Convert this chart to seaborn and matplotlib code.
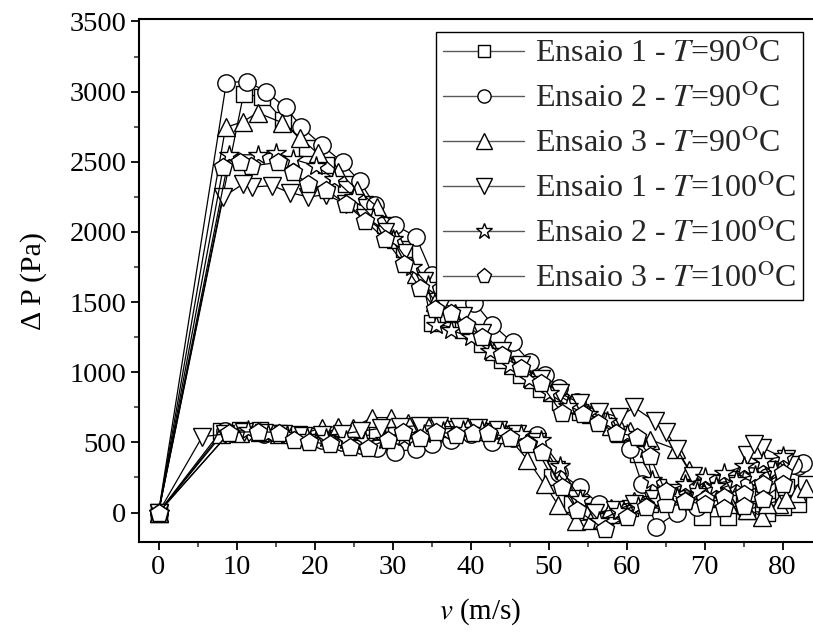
import numpy as np
import pandas as pd
import matplotlib
matplotlib.use("Agg")
import matplotlib.pyplot as plt
import seaborn as sns
from matplotlib.lines import Line2D

sns.set_theme(style="white")
plt.rcParams['font.family'] = ['Liberation Serif', 'DejaVu Serif']
plt.rcParams['mathtext.fontset'] = 'stix'

labels = [r'Ensaio 1 - $T$=90$^{\mathrm{O}}$C',
          r'Ensaio 2 - $T$=90$^{\mathrm{O}}$C',
          r'Ensaio 3 - $T$=90$^{\mathrm{O}}$C',
          r'Ensaio 1 - $T$=100$^{\mathrm{O}}$C',
          r'Ensaio 2 - $T$=100$^{\mathrm{O}}$C',
          r'Ensaio 3 - $T$=100$^{\mathrm{O}}$C']

# ---- Ensaio 1, 90 C (squares)
e1_90_lo_v = [0, 8.0, 10.5, 13.0, 15.5, 18.0, 20.5, 23.0, 25.5, 28.0, 30.5, 33.0, 35.5, 38.0, 40.5, 43.0, 45.5, 48.0, 50.5, 53.0, 55.5, 58.0, 60.5, 63.0, 65.5, 68.0, 70.5, 73.0, 75.5, 78.0, 80.5, 83.0]
e1_90_lo_dp = [0, 580, 590, 585, 570, 560, 545, 530, 540, 560, 580, 590, 600, 595, 590, 580, 560, 500, 250, 60, 10, -20, 30, 60, 80, 90, 100, 120, 140, 160, 180, 200]
e1_90_up_v = [10.9, 13.3, 15.9, 19.1, 21.5, 24.0, 26.5, 29.0, 31.5, 34.0, 35.0, 39.0, 41.5, 44.0, 46.5, 49.0, 51.5, 54.0, 56.5, 59.0, 61.5, 64.0, 66.5, 69.7, 73.0, 75.5, 78.0, 80.0, 82.0]
e1_90_up_dp = [2980, 2965, 2800, 2600, 2480, 2340, 2200, 2050, 1880, 1620, 1354, 1300, 1200, 1090, 980, 880, 790, 720, 650, 560, 420, 180, 60, -30, -30, 10, 0, 40, 60]

# ---- Ensaio 2, 90 C (circles)
e2_90_lo_v = [0, 8.5, 11.0, 13.5, 16.0, 18.5, 21.0, 23.5, 26.0, 28.0, 30.3, 33.0, 35.0, 37.5, 40.0, 42.8, 45.5, 48.5, 51.4, 54.0, 56.5, 59.0, 61.5, 64.0, 67.0, 70.0, 73.0, 76.0, 79.0, 82.0]
e2_90_lo_dp = [0, 580, 570, 560, 560, 540, 520, 500, 480, 460, 435, 450, 485, 520, 560, 506, 530, 556, 285, 180, 60, 20, 60, 100, 140, 180, 220, 260, 300, 330]
e2_90_up_v = [8.7, 11.4, 13.8, 16.3, 18.3, 20.9, 23.6, 25.8, 27.7, 30.3, 33.0, 35.1, 37.8, 40.5, 42.8, 45.4, 47.6, 49.5, 51.4, 53.7, 56.0, 58.5, 60.5, 62.0, 63.8, 66.5, 69.0, 72.0, 75.0, 78.0, 81.3, 82.6]
e2_90_up_dp = [3065, 3072, 3000, 2887, 2750, 2620, 2495, 2360, 2195, 2050, 1967, 1696, 1600, 1497, 1340, 1212, 1076, 980, 890, 790, 700, 600, 450, 200, -100, 0, 40, 100, 180, 250, 342, 356]

# ---- Ensaio 3, 90 C (triangles up)
e3_90_lo_v = [0, 8.0, 10.5, 13.0, 15.5, 18.0, 20.9, 23.0, 24.9, 27.4, 29.8, 32.0, 34.5, 37.0, 39.6, 42.0, 44.5, 47.3, 49.5, 51.2, 53.5, 55.5, 58.0, 61.0, 64.0, 67.0, 70.0, 73.0, 77.4, 79.5, 81.8]
e3_90_lo_dp = [0, 560, 570, 575, 560, 550, 605, 613, 605, 677, 677, 640, 620, 600, 613, 580, 560, 378, 200, 57, -60, -50, 30, 80, 120, 140, 160, 100, -30, 60, 140]
e3_90_up_v = [8.6, 10.8, 12.7, 15.8, 18.2, 20.4, 23.0, 25.5, 28.0, 30.5, 33.0, 35.5, 38.0, 40.5, 43.0, 45.5, 48.0, 50.5, 53.0, 55.5, 58.0, 60.5, 63.0, 66.4, 68.0, 70.5, 73.0, 75.5, 78.0, 80.5, 83.0]
e3_90_up_dp = [2745, 2785, 2850, 2780, 2670, 2560, 2430, 2300, 2180, 1950, 1700, 1500, 1420, 1300, 1150, 1050, 950, 860, 780, 700, 620, 580, 520, 450, 300, 150, 60, 20, 60, 100, 178]

# ---- Ensaio 1, 100 C (triangles down)
e1_100_lo_v = [0, 5.6, 8.5, 11.0, 13.5, 16.0, 18.5, 21.0, 23.5, 26.0, 28.5, 31.0, 33.5, 36.0, 38.5, 41.0, 43.5, 46.0, 48.5, 51.0, 53.5, 56.0, 58.5, 61.0, 63.5, 66.0, 68.5, 71.0, 73.5, 75.4, 78.5, 81.0]
e1_100_lo_dp = [0, 540, 560, 575, 570, 560, 545, 550, 560, 580, 600, 610, 620, 615, 610, 600, 590, 560, 500, 300, 100, 0, 20, 60, 100, 140, 170, 200, 230, 413, 300, 340]
e1_100_up_v = [8.3, 10.8, 12.0, 14.6, 16.8, 19.2, 21.5, 24.0, 26.5, 29.0, 31.5, 34.0, 36.5, 39.0, 41.5, 44.0, 46.5, 49.0, 51.5, 54.0, 56.5, 59.0, 61.0, 63.6, 65.1, 66.5, 68.5, 71.0, 73.5, 76.4, 77.4, 80.5]
e1_100_up_dp = [2250, 2340, 2320, 2330, 2280, 2250, 2265, 2200, 2100, 2000, 1850, 1650, 1500, 1400, 1280, 1150, 1050, 950, 850, 780, 720, 680, 750, 650, 577, 450, 260, 150, 200, 485, 463, 380]

# ---- Ensaio 2, 100 C (stars)
e2_100_lo_v = [0, 9.1, 11.5, 14.0, 16.5, 19.0, 21.5, 24.0, 26.5, 29.0, 31.5, 34.0, 36.5, 39.0, 41.5, 44.0, 46.5, 49.0, 51.5, 54.0, 56.5, 59.0, 61.5, 64.0, 66.5, 69.0, 71.5, 74.0, 76.5, 79.0]
e2_100_lo_dp = [0, 570, 590, 560, 555, 540, 530, 520, 510, 520, 540, 560, 580, 590, 590, 580, 560, 520, 330, 100, -60, 10, 50, 80, 110, 150, 190, 230, 270, 300]
e2_100_up_v = [9.1, 12.7, 15.1, 17.2, 20.2, 22.5, 25.0, 27.5, 30.0, 32.5, 34.5, 35.6, 37.5, 40.0, 42.5, 45.0, 47.5, 50.0, 52.5, 55.0, 57.5, 60.0, 62.5, 63.3, 65.0, 67.5, 70.0, 72.5, 75.0, 77.5, 80.0]
e2_100_up_dp = [2550, 2550, 2565, 2520, 2470, 2380, 2250, 2100, 1950, 1750, 1625, 1340, 1300, 1250, 1150, 1050, 950, 850, 760, 700, 650, 560, 450, 235, 150, 200, 250, 280, 330, 370, 400]

# ---- Ensaio 3, 100 C (pentagons)
e3_100_lo_v = [0, 9.1, 12.7, 15.5, 17.4, 19.3, 22.0, 24.5, 26.8, 29.4, 31.3, 33.5, 35.6, 38.2, 40.3, 42.2, 45.0, 47.3, 49.2, 51.7, 53.6, 57.2, 60.0, 62.5, 65.0, 67.5, 70.0, 72.5, 75.0, 77.5, 80.0]
e3_100_lo_dp = [0, 570, 577, 570, 520, 506, 485, 470, 463, 520, 577, 534, 577, 556, 570, 570, 534, 485, 428, 185, 20, -120, -30, 40, 60, 80, 100, 110, 130, 200, 280]
e3_100_up_v = [8.3, 10.4, 11.9, 15.3, 17.2, 19.2, 21.5, 24.0, 26.5, 29.0, 31.5, 33.5, 35.5, 37.5, 39.4, 41.5, 44.0, 46.5, 49.0, 51.7, 54.4, 56.3, 58.7, 61.3, 63.0, 65.0, 67.5, 70.0, 72.5, 75.0, 77.5, 80.0]
e3_100_up_dp = [2460, 2500, 2470, 2495, 2430, 2340, 2300, 2200, 2080, 1950, 1770, 1600, 1450, 1420, 1340, 1250, 1120, 1030, 920, 710, 700, 640, 570, 540, 400, 150, 80, 60, 30, 50, 100, 200]

series = [
    (e1_90_lo_v, e1_90_lo_dp, e1_90_up_v, e1_90_up_dp),
    (e2_90_lo_v, e2_90_lo_dp, e2_90_up_v, e2_90_up_dp),
    (e3_90_lo_v, e3_90_lo_dp, e3_90_up_v, e3_90_up_dp),
    (e1_100_lo_v, e1_100_lo_dp, e1_100_up_v, e1_100_up_dp),
    (e2_100_lo_v, e2_100_lo_dp, e2_100_up_v, e2_100_up_dp),
    (e3_100_lo_v, e3_100_lo_dp, e3_100_up_v, e3_100_up_dp),
]
markers = ['s', 'o', '^', 'v', '*', 'p']
msizes = [11, 12.5, 13.5, 13.5, 15, 13.5]
leg_msizes = [9, 9.5, 11, 11, 12, 11]

W, H = 813, 640
fig = plt.figure(figsize=(W / 100, H / 100), dpi=100)
xmin, xmax = -2.5, 85.0
ymin, ymax = -210, 3515
px_x = 7.8
px_y = 0.1403
ax = fig.add_axes([139 / W, 98 / H, (xmax - xmin) * px_x / W, (ymax - ymin) * px_y / H])

for i, (lv, ld, uv, ud) in enumerate(series):
    v = list(lv) + list(uv)[::-1] + [lv[0]]
    d = list(ld) + list(ud)[::-1] + [ld[0]]
    df = pd.DataFrame({'v': v, 'dp': d})
    sns.lineplot(data=df, x='v', y='dp', sort=False, estimator=None, ax=ax,
                 color='black', linewidth=0.9, marker=markers[i], markersize=msizes[i],
                 markerfacecolor='white', markeredgecolor='black', markeredgewidth=1.0,
                 legend=False)

ax.set_xlim(xmin, xmax)
ax.set_ylim(ymin, ymax)
ax.set_xticks(np.arange(0, 81, 10))
ax.set_xticks(np.arange(0, 86, 5), minor=True)
ax.set_yticks(np.arange(0, 3501, 500))
ax.set_yticks(np.arange(0, 3501, 250), minor=True)
ax.tick_params(axis='both', which='major', direction='out', length=6, width=1.3,
               labelsize=20.5, pad=3, colors='black', left=True, bottom=True)
ax.tick_params(axis='both', which='minor', direction='out', length=3.5, width=1.1,
               left=True, bottom=True)
for s in ['left', 'bottom', 'top']:
    ax.spines[s].set_visible(True)
    ax.spines[s].set_color('black')
    ax.spines[s].set_linewidth(1.5)
ax.spines['right'].set_visible(False)
ax.grid(False)

ax.set_xlabel(r'$v$ (m/s)', fontsize=21, labelpad=12, color='black')
ax.set_ylabel('Δ P (Pa)', fontsize=21.5, labelpad=16, color='black')

handles = [Line2D([0], [0], color='0.35', linewidth=1.0, marker=markers[i],
                  markersize=leg_msizes[i], markerfacecolor='white',
                  markeredgecolor='black', markeredgewidth=1.0)
           for i in range(6)]
leg = fig.legend(handles, labels, loc='upper right', bbox_to_anchor=(803 / W, 1 - 32 / H),
                 bbox_transform=fig.transFigure, fontsize=23, frameon=True, fancybox=False,
                 edgecolor='black', framealpha=1.0, handlelength=2.55, handletextpad=0.35,
                 labelspacing=0.45, borderpad=0.2, borderaxespad=0.0)
leg.get_frame().set_linewidth(1.0)

fig.savefig('out.png', dpi=100)
